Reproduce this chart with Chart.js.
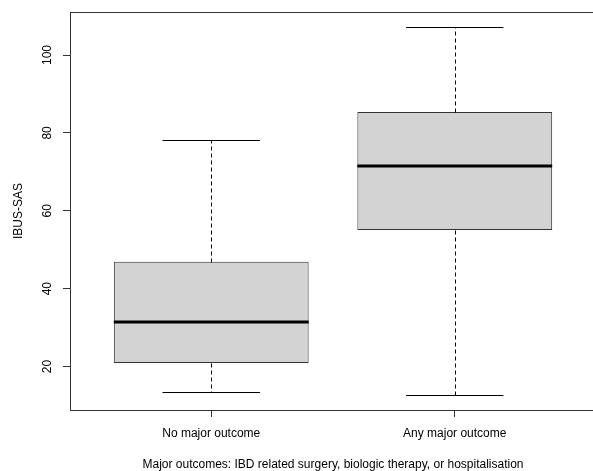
<!DOCTYPE html>
<html>
<head>
<meta charset="utf-8">
<script src="https://cdn.jsdelivr.net/npm/chart.js@4.4.0/dist/chart.umd.min.js"></script>
<style>
  html, body { margin: 0; padding: 0; background: #fff; overflow: hidden; }
  canvas { display: block; }
</style>
</head>
<body>
<canvas id="box-chart" width="600" height="471"></canvas>
<script>
// group labels and the five box statistics
const groups = ['No major outcome', 'Any major outcome'];
const whiskerLow = [13.5, 12.7];
const lowerQuartile = [20.9, 55.1];
const medians = [31.4, 71.5];
const upperQuartile = [46.9, 85.4];
const whiskerHigh = [78.2, 107.1];
const yTicks = [20, 40, 60, 80, 100];

const axisColor = '#333';
const font = { family: '"Liberation Sans", Arial, sans-serif', size: 12 };

// whiskers, caps, medians and the frame round the plot
const boxExtras = {
  id: 'boxExtras',
  afterDatasetsDraw(chart) {
    const { ctx, chartArea, scales } = chart;
    const y = scales.y;
    const bars = chart.getDatasetMeta(0).data;
    ctx.save();
    bars.forEach((bar, i) => {
      const cx = Math.round(bar.x) + 0.5;
      const half = bar.width / 2;
      const py = v => Math.round(y.getPixelForValue(v)) + 0.5;

      ctx.strokeStyle = '#000';
      ctx.lineWidth = 1;
      ctx.setLineDash([4, 3]);
      ctx.beginPath();
      ctx.moveTo(cx, py(upperQuartile[i]));
      ctx.lineTo(cx, py(whiskerHigh[i]));
      ctx.moveTo(cx, py(lowerQuartile[i]));
      ctx.lineTo(cx, py(whiskerLow[i]));
      ctx.stroke();

      ctx.setLineDash([]);
      ctx.beginPath();
      ctx.moveTo(bar.x - half / 2, py(whiskerHigh[i]));
      ctx.lineTo(bar.x + half / 2, py(whiskerHigh[i]));
      ctx.moveTo(bar.x - half / 2, py(whiskerLow[i]));
      ctx.lineTo(bar.x + half / 2, py(whiskerLow[i]));
      ctx.stroke();

      ctx.lineWidth = 3;
      ctx.beginPath();
      ctx.moveTo(bar.x - half, Math.round(y.getPixelForValue(medians[i])));
      ctx.lineTo(bar.x + half, Math.round(y.getPixelForValue(medians[i])));
      ctx.stroke();
    });

    ctx.strokeStyle = axisColor;
    ctx.lineWidth = 1;
    ctx.strokeRect(Math.round(chartArea.left) + 0.5, Math.round(chartArea.top) + 0.5,
      Math.round(chartArea.right - chartArea.left), Math.round(chartArea.bottom - chartArea.top));
    ctx.restore();
  }
};

new Chart(document.getElementById('box-chart'), {
  type: 'bar',
  data: {
    datasets: [{
      data: groups.map((g, i) => ({ x: i + 1, y: [lowerQuartile[i], upperQuartile[i]] })),
      backgroundColor: '#d3d3d3',
      borderColor: axisColor,
      borderWidth: 1,
      borderSkipped: false,
      categoryPercentage: 1,
      barPercentage: 0.8
    }]
  },
  options: {
    responsive: false,
    animation: false,
    layout: { padding: { top: 11, right: 4, left: 0, bottom: 0 } },
    plugins: { legend: { display: false }, tooltip: { enabled: false } },
    scales: {
      x: {
        type: 'linear',
        offset: false,
        min: 0.42,
        max: 2.58,
        afterBuildTicks: scale => { scale.ticks = groups.map((g, i) => ({ value: i + 1 })); },
        afterFit: scale => { scale.height = 61; },
        grid: { display: true, offset: false, drawOnChartArea: false, drawTicks: true, tickLength: 7, color: axisColor },
        border: { display: true, color: axisColor },
        ticks: {
          autoSkip: false,
          maxRotation: 0,
          padding: 9,
          color: '#000',
          font: font,
          callback: v => groups[v - 1]
        },
        title: {
          display: true,
          text: 'Major outcomes: IBD related surgery, biologic therapy, or hospitalisation',
          color: '#000',
          font: { ...font, lineHeight: 1 },
          padding: { top: 0, bottom: 0 }
        }
      },
      y: {
        min: 8.85,
        max: 111,
        afterBuildTicks: scale => { scale.ticks = yTicks.map(v => ({ value: v })); },
        afterFit: scale => { scale.width = 70; },
        grid: { display: true, drawOnChartArea: false, drawTicks: true, tickLength: 7, color: axisColor },
        border: { display: true, color: axisColor },
        ticks: {
          autoSkip: false,
          minRotation: 90,
          maxRotation: 90,
          crossAlign: 'center',
          padding: 5,
          color: '#000',
          font: font
        },
        title: {
          display: true,
          text: 'IBUS-SAS',
          color: '#000',
          font: font,
          padding: { top: 11, bottom: 0 }
        }
      }
    }
  },
  plugins: [boxExtras]
});
</script>
</body>
</html>
